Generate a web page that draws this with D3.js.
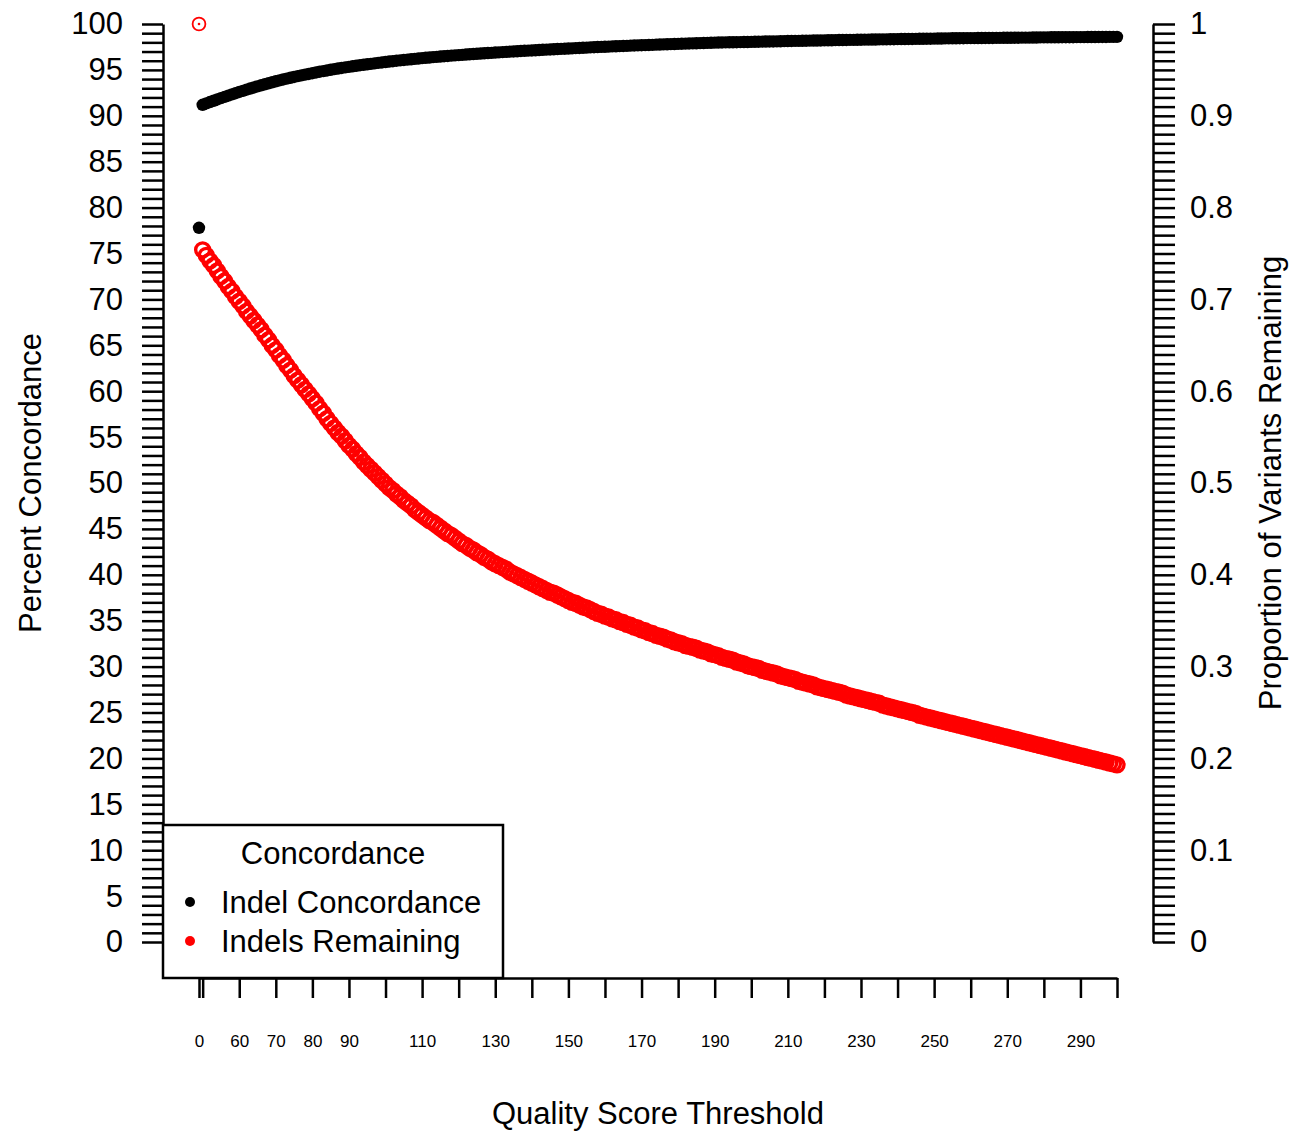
<!DOCTYPE html>
<html>
<head>
<meta charset="utf-8">
<script src="https://cdn.jsdelivr.net/npm/d3@7"></script>
<style>
  body { margin: 0; background: #fff; }
  text { font-family: "Liberation Sans", Arial, sans-serif; fill: #000; }
</style>
</head>
<body>
<script>
// quality score thresholds (first point is the unfiltered set)
var thresholds = [0].concat(d3.range(50, 301));

// percent concordance, left axis
var concordance = [
  77.8,
  91.20, 91.35, 91.50, 91.64, 91.78, 91.92, 92.06, 92.20, 92.33, 92.46,
  92.60, 92.72, 92.85, 92.97, 93.09, 93.21, 93.32, 93.43, 93.54, 93.65,
  93.76, 93.86, 93.96, 94.05, 94.14, 94.23, 94.32, 94.40, 94.48, 94.56,
  94.64, 94.72, 94.80, 94.87, 94.94, 95.01, 95.08, 95.15, 95.21, 95.27,
  95.33, 95.39, 95.45, 95.51, 95.56, 95.61, 95.66, 95.71, 95.76, 95.81,
  95.86, 95.91, 95.95, 96.00, 96.04, 96.08, 96.12, 96.16, 96.20, 96.24,
  96.28, 96.32, 96.35, 96.39, 96.42, 96.46, 96.49, 96.52, 96.55, 96.58,
  96.61, 96.64, 96.67, 96.70, 96.73, 96.76, 96.78, 96.81, 96.84, 96.86,
  96.89, 96.91, 96.94, 96.96, 96.99, 97.01, 97.03, 97.06, 97.08, 97.10,
  97.12, 97.14, 97.16, 97.19, 97.21, 97.23, 97.25, 97.27, 97.29, 97.31,
  97.33, 97.35, 97.37, 97.39, 97.41, 97.43, 97.45, 97.47, 97.49, 97.51,
  97.52, 97.54, 97.56, 97.57, 97.59, 97.61, 97.62, 97.64, 97.66, 97.67,
  97.69, 97.70, 97.72, 97.73, 97.75, 97.76, 97.78, 97.79, 97.81, 97.82,
  97.84, 97.85, 97.86, 97.88, 97.89, 97.90, 97.92, 97.93, 97.94, 97.95,
  97.97, 97.98, 97.99, 98.00, 98.01, 98.01, 98.02, 98.03, 98.04, 98.04,
  98.05, 98.06, 98.07, 98.08, 98.09, 98.10, 98.10, 98.11, 98.12, 98.13,
  98.14, 98.15, 98.16, 98.16, 98.17, 98.18, 98.19, 98.20, 98.20, 98.21,
  98.22, 98.23, 98.23, 98.24, 98.25, 98.25, 98.26, 98.27, 98.27, 98.28,
  98.29, 98.30, 98.30, 98.31, 98.31, 98.32, 98.33, 98.33, 98.34, 98.34,
  98.35, 98.36, 98.36, 98.37, 98.37, 98.38, 98.39, 98.39, 98.40, 98.40,
  98.41, 98.42, 98.42, 98.43, 98.43, 98.44, 98.44, 98.45, 98.45, 98.46,
  98.46, 98.46, 98.47, 98.47, 98.48, 98.48, 98.48, 98.49, 98.49, 98.50,
  98.50, 98.50, 98.51, 98.51, 98.52, 98.52, 98.52, 98.53, 98.53, 98.54,
  98.54, 98.54, 98.55, 98.55, 98.55, 98.56, 98.56, 98.56, 98.56, 98.57,
  98.57, 98.57, 98.58, 98.58, 98.58, 98.59, 98.59, 98.59, 98.60, 98.60,
  98.60
];

// proportion of indels remaining, right axis
var remaining = [
  1.000,
  0.754, 0.748, 0.742, 0.737, 0.731, 0.725, 0.720, 0.714, 0.709, 0.703,
  0.698, 0.693, 0.687, 0.682, 0.677, 0.672, 0.667, 0.661, 0.656, 0.650,
  0.645, 0.639, 0.634, 0.628, 0.623, 0.617, 0.612, 0.607, 0.602, 0.597,
  0.592, 0.587, 0.581, 0.576, 0.570, 0.565, 0.560, 0.555, 0.551, 0.546,
  0.541, 0.537, 0.532, 0.528, 0.523, 0.519, 0.515, 0.511, 0.507, 0.503,
  0.499, 0.495, 0.492, 0.488, 0.485, 0.481, 0.478, 0.475, 0.471, 0.468,
  0.465, 0.462, 0.459, 0.457, 0.454, 0.451, 0.448, 0.445, 0.443, 0.440,
  0.437, 0.434, 0.432, 0.429, 0.427, 0.424, 0.422, 0.419, 0.417, 0.414,
  0.412, 0.410, 0.408, 0.406, 0.403, 0.401, 0.399, 0.397, 0.395, 0.393,
  0.391, 0.389, 0.387, 0.385, 0.383, 0.381, 0.380, 0.378, 0.376, 0.374,
  0.372, 0.370, 0.369, 0.367, 0.365, 0.364, 0.362, 0.360, 0.358, 0.357,
  0.355, 0.354, 0.352, 0.351, 0.349, 0.348, 0.346, 0.345, 0.343, 0.342,
  0.340, 0.339, 0.337, 0.336, 0.334, 0.333, 0.332, 0.330, 0.329, 0.327,
  0.326, 0.325, 0.323, 0.322, 0.321, 0.320, 0.318, 0.317, 0.316, 0.314,
  0.313, 0.312, 0.310, 0.309, 0.308, 0.307, 0.305, 0.304, 0.303, 0.301,
  0.300, 0.299, 0.298, 0.296, 0.295, 0.294, 0.293, 0.292, 0.290, 0.289,
  0.288, 0.287, 0.286, 0.284, 0.283, 0.282, 0.281, 0.280, 0.278, 0.277,
  0.276, 0.275, 0.274, 0.273, 0.272, 0.271, 0.269, 0.268, 0.267, 0.266,
  0.265, 0.264, 0.263, 0.262, 0.261, 0.260, 0.258, 0.257, 0.256, 0.255,
  0.254, 0.253, 0.252, 0.251, 0.250, 0.249, 0.247, 0.246, 0.245, 0.244,
  0.243, 0.242, 0.241, 0.240, 0.239, 0.238, 0.237, 0.236, 0.235, 0.234,
  0.233, 0.232, 0.231, 0.230, 0.229, 0.228, 0.227, 0.226, 0.225, 0.224,
  0.223, 0.222, 0.221, 0.220, 0.219, 0.218, 0.217, 0.216, 0.215, 0.214,
  0.213, 0.212, 0.211, 0.210, 0.209, 0.208, 0.207, 0.206, 0.205, 0.204,
  0.203, 0.202, 0.201, 0.200, 0.199, 0.198, 0.197, 0.196, 0.195, 0.194,
  0.193
];

// x ticks and which of them get a label
var xTicks = [0, 50, 60, 70, 80, 90, 100, 110, 120, 130, 140, 150, 160, 170, 180,
  190, 200, 210, 220, 230, 240, 250, 260, 270, 280, 290, 300];
var xLabels = [0, 60, 70, 80, 90, 110, 130, 150, 170, 190, 210, 230, 250, 270, 290];

var legendItems = ["Indel Concordance", "Indels Remaining"];
var legendColors = ["#000", "#ff0000"];

var width = 1293, height = 1132;

var svg = d3.select("body").append("svg")
    .attr("width", width)
    .attr("height", height);

// scales
var x = d3.scalePoint()
    .domain(thresholds)
    .range([199, 1117]);

var yLeft = d3.scaleLinear().domain([0, 100]).range([942, 24]);
var yRight = d3.scaleLinear().domain([0, 1]).range([942, 24]);

// left axis: a tick every 1, label every 5
var leftAxis = svg.append("g")
    .attr("transform", "translate(163,0)")
    .call(d3.axisLeft(yLeft)
        .tickValues(d3.range(0, 101))
        .tickSize(21)
        .tickSizeOuter(0)
        .tickPadding(19)
        .tickFormat(function (d) { return d % 5 === 0 ? d : ""; }));

// right axis: tick every 0.01, label every 0.1
var rightAxis = svg.append("g")
    .attr("transform", "translate(1153,0)")
    .call(d3.axisRight(yRight)
        .tickValues(d3.range(0, 101).map(function (d) { return d / 100; }))
        .tickSize(22)
        .tickSizeOuter(0)
        .tickPadding(15)
        .tickFormat(function (d) {
            var k = Math.round(d * 100);
            return k % 10 === 0 ? d3.format("~g")(k / 100) : "";
        }));

// bottom axis
var bottomAxis = svg.append("g")
    .attr("transform", "translate(0,978)")
    .call(d3.axisBottom(x)
        .tickValues(xTicks)
        .tickSize(20)
        .tickSizeOuter(0)
        .tickPadding(37)
        .tickFormat(function (d) { return xLabels.indexOf(d) >= 0 ? d : ""; }));

[leftAxis, rightAxis, bottomAxis].forEach(function (g) {
    g.select(".domain").attr("stroke", "#000").attr("stroke-width", 2.5);
    g.selectAll(".tick line").attr("stroke", "#000").attr("stroke-width", 2.5);
    g.selectAll(".tick text").attr("font-family", null).style("fill", "#000");
});
leftAxis.selectAll(".tick text").attr("font-size", 31);
rightAxis.selectAll(".tick text").attr("font-size", 31);
bottomAxis.selectAll(".tick text").attr("font-size", 17);

// points
var pts = thresholds.map(function (t, i) {
    return { t: t, c: concordance[i], r: remaining[i] };
});

svg.append("g").selectAll("circle")
    .data(pts)
    .enter()
    .append("circle")
    .attr("cx", function (d) { return x(d.t); })
    .attr("cy", function (d) { return yLeft(d.c); })
    .attr("r", 6.2)
    .attr("fill", "#000");

svg.append("g").selectAll("circle")
    .data(pts.slice(1))
    .enter()
    .append("circle")
    .attr("cx", function (d) { return x(d.t); })
    .attr("cy", function (d) { return yRight(d.r); })
    .attr("r", 7)
    .attr("fill", "none")
    .attr("stroke", "#ff0000")
    .attr("stroke-width", 3.4);

// the unfiltered point, thinner ring with a small centre dot
svg.append("circle")
    .attr("cx", x(thresholds[0]))
    .attr("cy", yRight(remaining[0]))
    .attr("r", 6.4)
    .attr("fill", "none")
    .attr("stroke", "#ff0000")
    .attr("stroke-width", 1.8);
svg.append("circle")
    .attr("cx", x(thresholds[0]))
    .attr("cy", yRight(remaining[0]))
    .attr("r", 1.3)
    .attr("fill", "#ff0000");

// axis titles
svg.append("text")
    .attr("transform", "translate(41,483) rotate(-90)")
    .attr("text-anchor", "middle")
    .attr("font-size", 31)
    .text("Percent Concordance");

svg.append("text")
    .attr("transform", "translate(1281,483) rotate(-90)")
    .attr("text-anchor", "middle")
    .attr("font-size", 31)
    .text("Proportion of Variants Remaining");

svg.append("text")
    .attr("x", 658)
    .attr("y", 1124)
    .attr("text-anchor", "middle")
    .attr("font-size", 31)
    .text("Quality Score Threshold");

// legend
var legend = svg.append("g");

legend.append("rect")
    .attr("x", 163)
    .attr("y", 825)
    .attr("width", 340)
    .attr("height", 153)
    .attr("fill", "#fff")
    .attr("stroke", "#000")
    .attr("stroke-width", 2.5);

legend.append("text")
    .attr("x", 333)
    .attr("y", 864)
    .attr("text-anchor", "middle")
    .attr("font-size", 31)
    .text("Concordance");

legend.selectAll(".item")
    .data(legendItems)
    .enter()
    .append("g")
    .attr("class", "item")
    .each(function (d, i) {
        var g = d3.select(this);
        g.append("circle")
            .attr("cx", 190)
            .attr("cy", 902 + i * 39)
            .attr("r", 5)
            .attr("fill", legendColors[i]);
        g.append("text")
            .attr("x", 221)
            .attr("y", 913 + i * 39)
            .attr("font-size", 31)
            .text(d);
    });
</script>
</body>
</html>
